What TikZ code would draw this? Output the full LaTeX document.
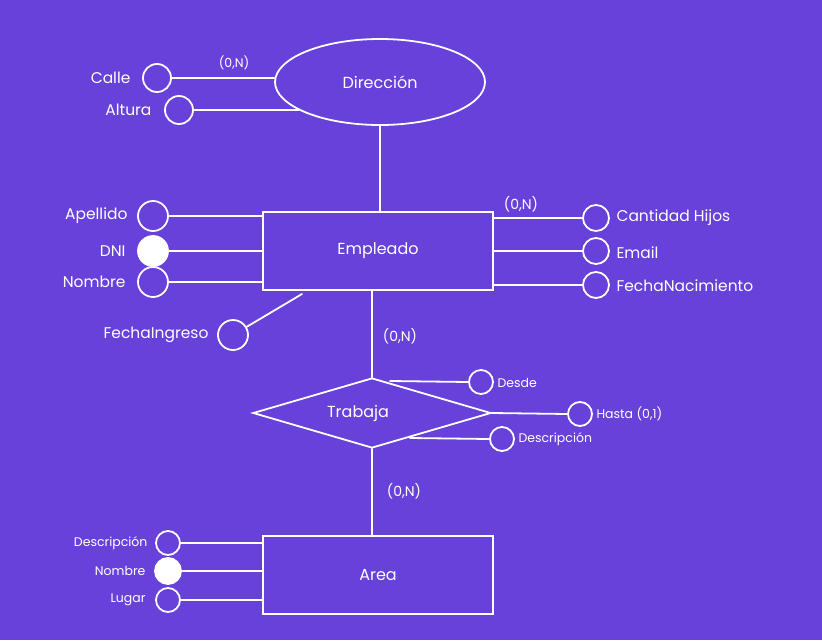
\documentclass[tikz,border=0pt]{standalone}
\usepackage{fontspec}
\setmainfont{Poppins}
\usetikzlibrary{shapes.geometric,calc}
\definecolor{bgv}{HTML}{6741D9}
\tikzset{
  ln/.style={draw=white,line width=1.8pt,line cap=round},
  attr/.style={circle,draw=white,line width=1.8pt,minimum size=#1,inner sep=0pt},
  attr/.default=28pt,
  key/.style={attr=#1,fill=white},
  key/.default=28pt,
  lbl/.style={text=white,font=\fontsize{15.5}{17}\selectfont},
  slbl/.style={text=white,font=\fontsize{12.5}{14}\selectfont},
  card/.style={text=white,font=\fontsize{14}{16}\selectfont},
  ent/.style={rectangle,draw=white,line width=1.8pt,minimum width=230pt,minimum height=78pt,text=white,font=\fontsize{16}{18}\selectfont},
}
\begin{document}
\begin{tikzpicture}[x=1pt,y=-1pt]
\fill[bgv] (0,0) rectangle (822,640);
\useasboundingbox (0,0) rectangle (822,640);
% Direccion
\node[ellipse,draw=white,line width=1.8pt,minimum width=210pt,minimum height=86pt,text=white,font=\fontsize{16}{18}\selectfont] (dir) at (380,82) {Dirección};
\node[attr] (calle) at (157,78) {};
\node[lbl,anchor=east] (lcalle) at (134,78) {Calle};
\node[attr] (alt) at (179,110) {};
\node[lbl,anchor=east] (lalt) at (155,110) {Altura};
\draw[ln] (calle.east) -- (calle.east -| dir.west);
\draw[ln] (alt.east) -- (alt.east -| dir.199);
\node[card,font=\fontsize{12.5}{14}\selectfont] (c0) at (234,63) {(0,N)};
% Empleado
\node[ent] (emp) at (378,251) {Empleado};
\coordinate (etop) at (380,212);
\draw[ln] (dir.south) -- (etop);
\node[attr=30pt] (ape) at (153,216) {};
\node[lbl,anchor=east] (lape) at (131,216) {Apellido};
\node[key=30pt] (dni) at (153,251) {};
\node[lbl,anchor=east] (ldni) at (129,251) {DNI};
\node[attr=30pt] (nom) at (153,282) {};
\node[lbl,anchor=east] (lnom) at (129,282) {Nombre};
\draw[ln] (ape.east) -- (ape.east -| emp.west);
\draw[ln] (dni.east) -- (dni.east -| emp.west);
\draw[ln] (nom.east) -- (nom.east -| emp.west);
\node[attr=30pt] (fing) at (233,335) {};
\node[lbl,anchor=east] (lfing) at (212,335) {FechaIngreso};
\coordinate (fingend) at (302,294);
\draw[ln] (fing) -- (fingend);
\node[attr=26pt] (hij) at (596,218) {};
\node[lbl,anchor=west] (lhij) at (613,218) {Cantidad Hijos};
\node[attr=26pt] (ema) at (596,251) {};
\node[lbl,anchor=west] (lema) at (613,253) {Email};
\node[attr=26pt] (fnac) at (596,285) {};
\node[lbl,anchor=west] (lfnac) at (613,286) {FechaNacimiento};
\draw[ln] (hij.west) -- (hij.west -| emp.east);
\draw[ln] (ema.west) -- (ema.west -| emp.east);
\draw[ln] (fnac.west) -- (fnac.west -| emp.east);
\node[card] (c1) at (521,204) {(0,N)};
% Trabaja
\node[diamond,draw=white,line width=1.8pt,minimum width=238pt,minimum height=70pt,inner sep=0pt,aspect=3.4] (tra) at (372,413) {};
\node[text=white,font=\fontsize{16}{18}\selectfont] (ltra) at (358,413) {Trabaja};
\draw[ln] (372,290) coordinate (ebot) -- (tra.north);
\node[card] (c2) at (400,336) {(0,N)};
\node[attr=24pt] (des) at (481,382) {};
\node[slbl,anchor=west] (ldes) at (494,383) {Desde};
\node[attr=24pt] (has) at (580,414) {};
\node[slbl,anchor=west] (lhas) at (593,414) {Hasta (0,1)};
\node[attr=24pt] (dsc) at (502,439) {};
\node[slbl,anchor=west] (ldsc) at (515,439) {Descripción};
\coordinate (tdes) at (390,381);
\coordinate (tdsc) at (410,438);
\draw[ln] (tdes) -- (des.west);
\draw[ln] (tra.east) -- (has.west);
\draw[ln] (tdsc) -- (dsc.west);
% Area
\node[ent] (area) at (378,575) {Area};
\draw[ln] (tra.south) -- (tra.south |- area.north);
\node[card] (c3) at (404,491) {(0,N)};
\node[attr=24pt] (adsc) at (168,543) {};
\node[slbl,anchor=east] (ladsc) at (151,543) {Descripción};
\node[key=26pt] (anom) at (168,571) {};
\node[slbl,anchor=east] (lanom) at (149,571) {Nombre};
\node[attr=24pt] (alug) at (168,600) {};
\node[slbl,anchor=east] (lalug) at (149,600) {Lugar};
\draw[ln] (adsc.east) -- (adsc.east -| area.west);
\draw[ln] (anom.east) -- (anom.east -| area.west);
\draw[ln] (alug.east) -- (alug.east -| area.west);
\end{tikzpicture}
\end{document}
